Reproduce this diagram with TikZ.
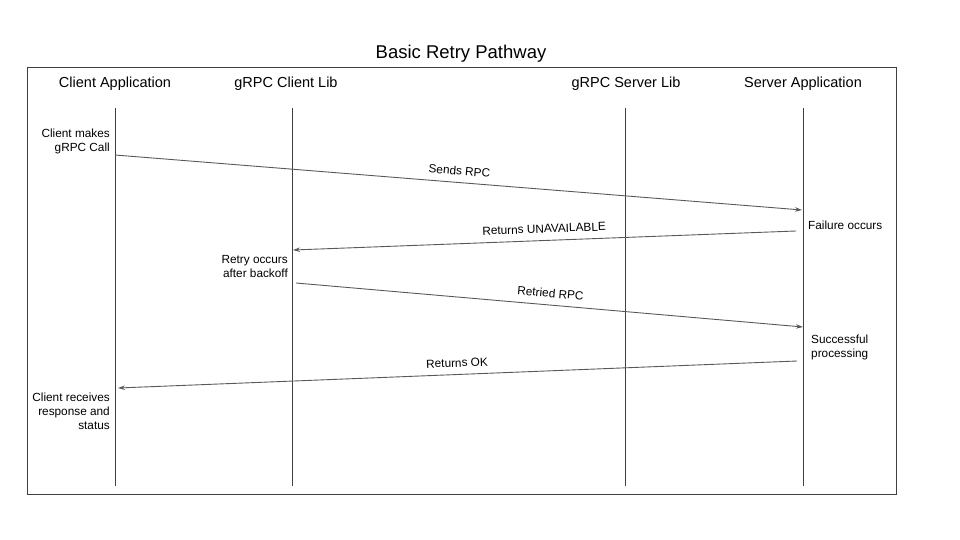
\documentclass[tikz,border=0pt]{standalone}
\usepackage{fontspec}
\setmainfont{Liberation Sans}
\usetikzlibrary{arrows.meta}
\begin{document}
\begin{tikzpicture}[x=1pt,y=-1pt,
  header/.style={font=\fontsize{14.5}{17}\selectfont, inner sep=0pt},
  note/.style={font=\fontsize{11.8}{14}\selectfont, inner sep=0pt, align=#1},
  note/.default=left,
  life/.style={draw=black!75, line width=0.8pt},
  msg/.style={draw=black!65, line width=0.9pt, -{Stealth[length=7pt,width=4.5pt]}},
  lbl/.style={font=\fontsize{11.8}{14}\selectfont, inner sep=0pt, above=7pt, sloped, midway, text=black}]
\useasboundingbox (0,0) rectangle (960,540);
\draw[black!75, line width=0.8pt] (27,67) rectangle (896,494);
\node[font=\fontsize{18.5}{22}\selectfont, inner sep=0pt] (title) at (461,53.5) {Basic Retry Pathway};
% headers
\node[header] (hCA) at (115,83.5) {Client Application};
\node[header] (hCL) at (286,83.5) {gRPC Client Lib};
\node[header] (hSL) at (626,83.5) {gRPC Server Lib};
\node[header] (hSA) at (803,83.5) {Server Application};
% lifelines
\coordinate (ca0) at (115,108); \coordinate (ca1) at (115,486);
\coordinate (cl0) at (292,108); \coordinate (cl1) at (292,486);
\coordinate (sl0) at (625,108); \coordinate (sl1) at (625,486);
\coordinate (sa0) at (803,108); \coordinate (sa1) at (803,486);
\draw[life] (ca0) -- (ca1);
\draw[life] (cl0) -- (cl1);
\draw[life] (sl0) -- (sl1);
\draw[life] (sa0) -- (sa1);
% notes
\node[note=right, anchor=east] (n1) at (110,141) {Client makes\\gRPC Call};
\node[note=left, anchor=west] (n2) at (808,225.5) {Failure occurs};
\node[note=right, anchor=east] (n3) at (288,266.5) {Retry occurs\\after backoff};
\node[note=left, anchor=west] (n4) at (811,347.5) {Successful\\processing};
\node[note=right, anchor=east] (n5) at (110,411.5) {Client receives\\response and\\status};
% messages
\coordinate (m1a) at (115,155); \coordinate (m1b) at (802,210);
\coordinate (m2a) at (796,231); \coordinate (m2b) at (293,250);
\coordinate (m3a) at (296,283); \coordinate (m3b) at (803,327);
\coordinate (m4a) at (797,361); \coordinate (m4b) at (118,388);
\draw[msg] (m1a) -- node[lbl] (l1) {Sends RPC} (m1b);
\draw[msg] (m2a) -- node[lbl] (l2) {Returns UNAVAILABLE} (m2b);
\draw[msg] (m3a) -- node[lbl] (l3) {Retried RPC} (m3b);
\draw[msg] (m4a) -- node[lbl] (l4) {Returns OK} (m4b);
\end{tikzpicture}
\end{document}
